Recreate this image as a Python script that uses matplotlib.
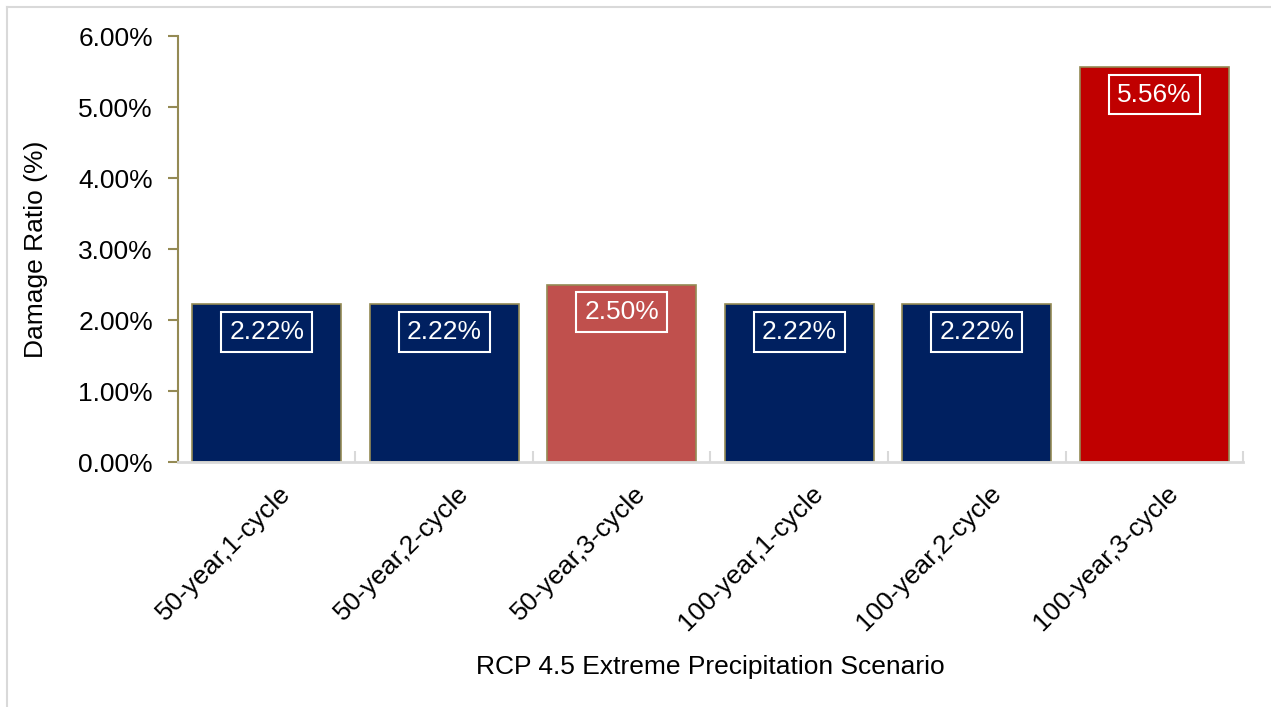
import matplotlib.pyplot as plt
from matplotlib.lines import Line2D
from matplotlib.ticker import FuncFormatter, FixedLocator
from matplotlib.transforms import ScaledTranslation
import numpy as np

plt.rcParams['font.family'] = ['Liberation Sans', 'DejaVu Sans']

scenarios = ['50-year,1-cycle', '50-year,2-cycle', '50-year,3-cycle',
             '100-year,1-cycle', '100-year,2-cycle', '100-year,3-cycle']
damage = [0.0222, 0.0222, 0.0250, 0.0222, 0.0222, 0.0556]
bar_colors = ['#002060', '#002060', '#C0504D', '#002060', '#002060', '#C00000']

olive = '#948A54'
grid_gray = '#D9D9D9'
fs = 19

fig = plt.figure(figsize=(12.71, 7.07), dpi=100)
ax = fig.add_axes([0.140, 0.3465, 0.838, 0.6025])

x = np.arange(len(scenarios))
bars = ax.bar(x, damage, width=0.84, color=bar_colors, edgecolor=olive, linewidth=1.2)

for b, v in zip(bars, damage):
    ax.annotate('%.2f%%' % (v * 100), (b.get_x() + b.get_width() / 2, v),
                xytext=(0, -11), textcoords='offset points', ha='center', va='top',
                color='white', fontsize=fs,
                bbox=dict(boxstyle='square,pad=0.3', fc='none', ec='white', lw=1.5))

ax.set_xlim(-0.5, len(scenarios) - 0.5)
ax.set_ylim(0, 0.06)
ax.set_yticks(np.arange(0, 0.061, 0.01))
ax.yaxis.set_major_formatter(FuncFormatter(lambda v, p: '%.2f%%' % (v * 100)))

ax.set_xticks(x)
ax.xaxis.set_minor_locator(FixedLocator(np.arange(-0.5, len(scenarios), 1.0)))
ax.tick_params(axis='x', which='major', length=0, pad=14, labelsize=fs)
ax.tick_params(axis='x', which='minor', direction='in', length=8, color=grid_gray, width=1.5)
ax.tick_params(axis='y', direction='out', length=7, color=olive, width=1.5, labelsize=fs, pad=11)
ax.set_xticklabels(scenarios, rotation=45, ha='right', va='top', rotation_mode='anchor')
# nudge the rotated labels to the right, like Excel does
shift = ScaledTranslation(12 / 100, 0, fig.dpi_scale_trans)
for lab in ax.get_xticklabels():
    lab.set_transform(lab.get_transform() + shift)

for s in ['top', 'right']:
    ax.spines[s].set_visible(False)
ax.spines['left'].set_color(olive)
ax.spines['left'].set_linewidth(1.5)
ax.spines['bottom'].set_color(grid_gray)
ax.spines['bottom'].set_linewidth(2)

ax.set_ylabel('Damage Ratio (%)', fontsize=fs, labelpad=22)
ax.set_xlabel('RCP 4.5 Extreme Precipitation Scenario', fontsize=fs, labelpad=14)

# light page frame
fig.add_artist(Line2D([7 / 1271, 7 / 1271], [0, 1 - 7 / 707], transform=fig.transFigure, color=grid_gray, lw=1.5))
fig.add_artist(Line2D([7 / 1271, 1], [1 - 7 / 707, 1 - 7 / 707], transform=fig.transFigure, color=grid_gray, lw=1.5))

plt.savefig('out.png', dpi=100)
